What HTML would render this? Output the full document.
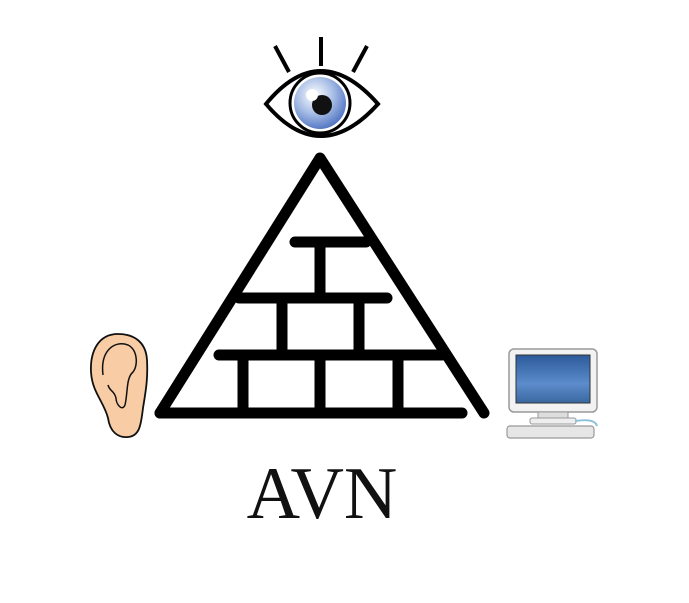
<!DOCTYPE html>
<html><head><style>html,body{margin:0;padding:0;background:#fff;}svg{display:block}</style></head>
<body>
<svg width="689" height="603" viewBox="0 0 689 603" xmlns="http://www.w3.org/2000/svg">
<defs>
<radialGradient id="iris" cx="0.4" cy="0.35" r="0.7">
<stop offset="0" stop-color="#ffffff"/><stop offset="0.5" stop-color="#a9bfe6"/><stop offset="1" stop-color="#4a6fc0"/>
</radialGradient>
<linearGradient id="scr" x1="0" y1="0" x2="0" y2="1">
<stop offset="0" stop-color="#2c5a9a"/><stop offset="0.6" stop-color="#5c8ccc"/><stop offset="1" stop-color="#3a679f"/>
</linearGradient>
</defs>
<rect width="689" height="603" fill="#fff"/>
<g stroke="#000" stroke-width="4" stroke-linecap="butt">
<line x1="321" y1="37" x2="321" y2="66"/>
<line x1="275" y1="46" x2="289" y2="72"/>
<line x1="367" y1="46" x2="353" y2="72"/>
</g>
<path d="M266 104 Q320 38 378 104 Q320 168 266 104 Z" fill="#fff" stroke="#000" stroke-width="4"/>
<circle cx="320" cy="103" r="30" fill="#fff" stroke="#000" stroke-width="3"/>
<circle cx="320" cy="103" r="26" fill="url(#iris)"/>
<circle cx="322" cy="105" r="10" fill="#111"/>
<circle cx="312" cy="95" r="6" fill="#fff"/>
<g stroke="#000" stroke-width="11" stroke-linecap="round" stroke-linejoin="round" fill="none">
<path d="M160 413 L320 158 L484 413"/>
<line x1="160" y1="413" x2="462" y2="413"/>
<line x1="219" y1="355" x2="442" y2="355"/>
<line x1="239" y1="298" x2="387" y2="298"/>
<line x1="295" y1="242" x2="366" y2="242"/>
<line x1="320" y1="242" x2="320" y2="298" stroke-linecap="butt"/>
<line x1="282" y1="298" x2="282" y2="355" stroke-linecap="butt"/>
<line x1="359" y1="298" x2="359" y2="355" stroke-linecap="butt"/>
<line x1="243" y1="355" x2="243" y2="413" stroke-linecap="butt"/>
<line x1="320" y1="355" x2="320" y2="413" stroke-linecap="butt"/>
<line x1="398" y1="355" x2="398" y2="413" stroke-linecap="butt"/>
</g>
<path d="M118 334 C98 334 90 352 91 372 C92 392 104 402 108 418 C110 432 118 438 128 437 C140 436 141 424 143 408 C146 390 148 378 147 360 C146 342 134 334 118 334 Z" fill="#f8cca4" stroke="#111" stroke-width="1.8"/>
<path d="M103 375 C100 350 115 340 128 345 C138 350 138 366 133 372 C126 378 128 392 125 405 C122 412 116 404 116 398 C114 390 110 392 108 385" fill="none" stroke="#111" stroke-width="1.5"/>
<rect x="509" y="349" width="88" height="63" rx="5" fill="#f2f2f2" stroke="#999" stroke-width="1.5"/>
<rect x="516" y="355" width="74" height="48" fill="url(#scr)" stroke="#333" stroke-width="1"/>
<rect x="538" y="412" width="30" height="7" fill="#ddd" stroke="#999"/>
<rect x="530" y="418" width="46" height="6" rx="2" fill="#eee" stroke="#999"/>
<path d="M575 421 Q595 418 597 426" fill="none" stroke="#8cc0dc" stroke-width="2"/>
<rect x="507" y="426" width="87" height="12" rx="3" fill="#e6e6e6" stroke="#999" stroke-width="1.2"/>
<text x="322" y="518" font-family="Liberation Serif, serif" font-size="74" text-anchor="middle" fill="#111">AVN</text>
</svg>
</body></html>
